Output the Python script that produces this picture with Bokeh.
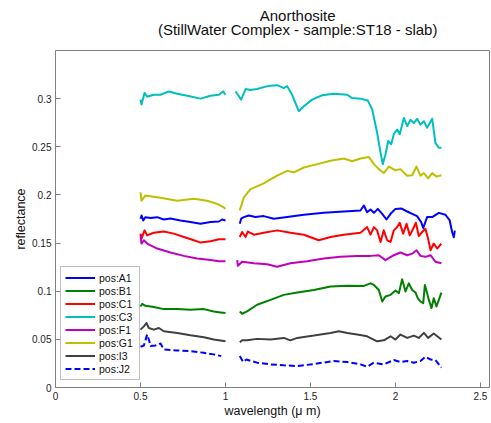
import math
from bokeh.plotting import figure
from bokeh.layouts import column
from bokeh.models import Label, Legend, LegendItem, FixedTicker, Range1d
from bokeh.embed import file_html
from bokeh.resources import INLINE

NaN = float("nan")

title_main = "Anorthosite"
title_sub = "(StillWater Complex - sample:ST18 - slab)"
x_label = "wavelength (\u03bc m)"
y_label = "reflectance"

x_ticks = [0, 0.5, 1, 1.5, 2, 2.5]
x_tick_labels = ["0", "0.5", "1", "1.5", "2", "2.5"]
y_ticks = [0, 0.05, 0.1, 0.15, 0.2, 0.25, 0.3]
y_tick_labels = ["0", "0.05", "0.1", "0.15", "0.2", "0.25", "0.3"]

series_names = ["pos:A1", "pos:B1", "pos:C1", "pos:C3", "pos:F1", "pos:G1", "pos:I3", "pos:J2"]

# pos:A1
a1_wl = [0.5, 0.506, 0.516, 0.529, 0.559, 0.598, 0.637, 0.676, 0.735, 0.794, 0.853, 0.912, 0.961, 0.98, 1.0, NaN,
         1.084, 1.092, 1.108, 1.137, 1.176, 1.225, 1.284, 1.363, 1.461, 1.578, 1.696, 1.794, 1.814, 1.833, 1.853,
         1.873, 1.896, 1.922, 1.947, 1.971, 2.0, 2.033, 2.069, 2.098, 2.127, 2.151, 2.163, 2.186, 2.216, 2.255,
         2.294, 2.319, 2.333, 2.343, 2.349]
a1_r = [0.1753, 0.1787, 0.1735, 0.1769, 0.176, 0.1769, 0.1745, 0.1755, 0.1735, 0.1718, 0.1701, 0.1718, 0.1724, 0.1745, 0.1735, NaN,
        0.170, 0.1753, 0.177, 0.1787, 0.177, 0.178, 0.1753, 0.177, 0.1794, 0.1814, 0.1828, 0.1838, 0.189, 0.182, 0.1848,
        0.1814, 0.1855, 0.1804, 0.1745, 0.1804, 0.1855, 0.186, 0.1828, 0.1804, 0.178, 0.1718, 0.1656, 0.177, 0.177, 0.1814,
        0.1794, 0.1735, 0.1615, 0.156, 0.163]

# pos:B1
b1_wl = [0.5, 0.51, 0.529, 0.578, 0.637, 0.716, 0.794, 0.873, 0.931, 0.971, 1.0, NaN,
         1.084, 1.098, 1.127, 1.186, 1.265, 1.343, 1.422, 1.52, 1.618, 1.716, 1.814, 1.853, 1.873, 1.902, 1.922,
         1.941, 1.971, 2.0, 2.02, 2.039, 2.059, 2.078, 2.098, 2.118, 2.131, 2.147, 2.163, 2.173, 2.186, 2.196,
         2.212, 2.225, 2.241, 2.255, 2.27]
b1_r = [0.0841, 0.0869, 0.0848, 0.0835, 0.0814, 0.0814, 0.0807, 0.0814, 0.079, 0.078, 0.0773, NaN,
        0.079, 0.0766, 0.079, 0.0859, 0.091, 0.0962, 0.0986, 0.1013, 0.1048, 0.1058, 0.1055, 0.1082, 0.1065, 0.1013, 0.0893,
        0.0945, 0.0962, 0.1007, 0.098, 0.1124, 0.0997, 0.1082, 0.1013, 0.0986, 0.0928, 0.0893, 0.0876, 0.1065, 0.098, 0.091,
        0.0825, 0.0928, 0.0841, 0.091, 0.0986]

# pos:C1
c1_wl = [0.5, 0.506, 0.524, 0.539, 0.578, 0.637, 0.696, 0.755, 0.814, 0.853, 0.912, 0.961, 1.0, NaN,
         1.084, 1.098, 1.118, 1.131, 1.167, 1.225, 1.304, 1.382, 1.461, 1.549, 1.618, 1.696, 1.794, 1.833, 1.853,
         1.873, 1.892, 1.912, 1.931, 1.951, 1.971, 1.99, 2.01, 2.025, 2.045, 2.065, 2.084, 2.104, 2.12, 2.137,
         2.157, 2.176, 2.192, 2.206, 2.225, 2.245, 2.27]
c1_r = [0.1598, 0.1546, 0.1632, 0.158, 0.1607, 0.162, 0.1598, 0.1563, 0.1529, 0.1505, 0.1518, 0.154, 0.154, NaN,
        0.1563, 0.1615, 0.1563, 0.162, 0.1587, 0.1607, 0.1632, 0.1607, 0.1587, 0.1529, 0.1563, 0.1587, 0.1607, 0.1666, 0.1587,
        0.1666, 0.1632, 0.1512, 0.1632, 0.1529, 0.1512, 0.1632, 0.1666, 0.1711, 0.1598, 0.170, 0.158, 0.1649, 0.1711, 0.1573,
        0.1615, 0.1649, 0.1546, 0.1426, 0.1495, 0.1443, 0.1495]

# pos:C3
c3_wl = [0.5, 0.506, 0.524, 0.539, 0.578, 0.618, 0.667, 0.716, 0.775, 0.853, 0.912, 0.961, 0.986, 1.0, NaN,
         1.059, 1.073, 1.092, 1.118, 1.147, 1.186, 1.225, 1.265, 1.304, 1.343, 1.363, 1.392, 1.431, 1.461, 1.51,
         1.569, 1.637, 1.716, 1.745, 1.794, 1.837, 1.863, 1.892, 1.912, 1.925, 1.941, 1.957, 1.975, 1.99, 2.01,
         2.025, 2.049, 2.069, 2.088, 2.108, 2.127, 2.147, 2.167, 2.186, 2.216, 2.235, 2.255, 2.27]
c3_r = [0.299, 0.294, 0.306, 0.302, 0.304, 0.304, 0.3075, 0.305, 0.303, 0.300, 0.303, 0.304, 0.3075, 0.304, NaN,
        0.3075, 0.304, 0.299, 0.310, 0.309, 0.310, 0.312, 0.3135, 0.314, 0.311, 0.313, 0.304, 0.287, 0.292, 0.299,
        0.3035, 0.305, 0.304, 0.3006, 0.300, 0.298, 0.2887, 0.2646, 0.244, 0.232, 0.242, 0.256, 0.2526, 0.263, 0.268,
        0.263, 0.280, 0.2715, 0.278, 0.2746, 0.279, 0.273, 0.2765, 0.2697, 0.279, 0.254, 0.249, 0.249]

# pos:F1
f1_wl = [0.5, 0.506, 0.52, 0.539, 0.598, 0.676, 0.755, 0.833, 0.912, 0.961, 1.0, NaN,
         1.069, 1.073, 1.098, 1.167, 1.245, 1.304, 1.382, 1.48, 1.578, 1.676, 1.775, 1.853, 1.902, 1.941, 1.99,
         2.029, 2.069, 2.098, 2.124, 2.147, 2.176, 2.206, 2.235, 2.27]
f1_r = [0.158, 0.1495, 0.1529, 0.1495, 0.1443, 0.1402, 0.1367, 0.134, 0.1323, 0.1312, 0.1312, NaN,
        0.1323, 0.1264, 0.1306, 0.129, 0.128, 0.1254, 0.129, 0.1312, 0.134, 0.1357, 0.1367, 0.1367, 0.1374, 0.1323, 0.1374,
        0.1402, 0.1374, 0.139, 0.1426, 0.1367, 0.1357, 0.1374, 0.1306, 0.129]

# pos:G1
g1_wl = [0.5, 0.506, 0.529, 0.618, 0.716, 0.814, 0.892, 0.951, 0.99, 1.0, NaN,
         1.084, 1.108, 1.147, 1.225, 1.304, 1.363, 1.402, 1.461, 1.54, 1.618, 1.696, 1.745, 1.794, 1.843, 1.873,
         1.902, 1.931, 1.961, 2.0, 2.029, 2.069, 2.098, 2.124, 2.147, 2.167, 2.192, 2.216, 2.241, 2.27]
g1_r = [0.2027, 0.194, 0.1993, 0.197, 0.194, 0.196, 0.194, 0.1907, 0.187, 0.1856, NaN,
        0.184, 0.1975, 0.206, 0.212, 0.22, 0.225, 0.2235, 0.2285, 0.232, 0.2354, 0.2378, 0.235, 0.2378, 0.2395, 0.232,
        0.2268, 0.2227, 0.2295, 0.2255, 0.2268, 0.22, 0.2205, 0.2295, 0.22, 0.2227, 0.2172, 0.2227, 0.219, 0.2205]

# pos:I3
i3_wl = [0.5, 0.52, 0.535, 0.549, 0.578, 0.608, 0.637, 0.716, 0.794, 0.873, 0.931, 0.971, 1.0, NaN,
         1.084, 1.098, 1.127, 1.186, 1.265, 1.343, 1.382, 1.422, 1.52, 1.618, 1.667, 1.716, 1.775, 1.833, 1.892,
         1.931, 1.971, 2.0, 2.029, 2.069, 2.108, 2.137, 2.167, 2.192, 2.225, 2.27]
i3_r = [0.0601, 0.0635, 0.067, 0.0618, 0.0601, 0.0618, 0.0584, 0.0567, 0.0542, 0.0522, 0.0498, 0.0488, 0.048, NaN,
        0.047, 0.049, 0.049, 0.0505, 0.0498, 0.0515, 0.049, 0.0515, 0.0539, 0.0567, 0.0584, 0.0567, 0.055, 0.0532, 0.048,
        0.049, 0.0532, 0.0498, 0.055, 0.0515, 0.0539, 0.0515, 0.0567, 0.0515, 0.056, 0.0498]

# pos:J2
j2_wl = [0.5, 0.52, 0.539, 0.549, 0.559, 0.588, 0.618, 0.637, 0.716, 0.794, 0.873, 0.931, 0.975, NaN,
         1.084, 1.104, 1.123, 1.186, 1.265, 1.343, 1.422, 1.52, 1.637, 1.716, 1.794, 1.833, 1.873, 1.931, 1.99,
         2.029, 2.069, 2.108, 2.147, 2.176, 2.206, 2.235, 2.255, 2.27]
j2_r = [0.0423, 0.0436, 0.055, 0.0498, 0.043, 0.0436, 0.0457, 0.0395, 0.0385, 0.0378, 0.036, 0.0344, 0.0326, NaN,
        0.0326, 0.0264, 0.029, 0.0258, 0.024, 0.023, 0.0223, 0.0244, 0.0275, 0.0264, 0.024, 0.0216, 0.0258, 0.024, 0.0285,
        0.0264, 0.0275, 0.0258, 0.0275, 0.032, 0.029, 0.0285, 0.024, 0.0206]

series_wl = [a1_wl, b1_wl, c1_wl, c3_wl, f1_wl, g1_wl, i3_wl, j2_wl]
series_r = [a1_r, b1_r, c1_r, c3_r, f1_r, g1_r, i3_r, j2_r]
colors = ["#0000ff", "#008000", "#ff0000", "#00bfbf", "#bf00bf", "#bfbf00", "#404040", "#0000ff"]
dashes = ["solid"] * 7 + ["6 3"]

FONT = "Liberation Sans"

# --- title strip: a bare figure whose frame covers the whole strip (49 px tall, y measured from top)
t = figure(width=491, height=49, output_backend="svg", toolbar_location=None,
           x_range=Range1d(0, 491), y_range=Range1d(49, 0),
           x_axis_location=None, y_axis_location=None,
           min_border_left=0, min_border_right=0, min_border_top=0, min_border_bottom=0)
t.grid.visible = False
t.outline_line_color = None
t.background_fill_color = "white"
t.border_fill_color = "white"
for txt, ty in ((title_main, 15), (title_sub, 28.5)):
    t.add_layout(Label(x=274, y=ty, text=txt, text_align="center", text_baseline="middle",
                       text_font=FONT, text_font_size="15px", text_color="#111111"))

# --- main chart
p = figure(width=491, height=374, output_backend="svg", toolbar_location=None,
           x_range=Range1d(0, 2.553), y_range=Range1d(0, 0.35),
           min_border_left=55, min_border_right=2, min_border_top=1, min_border_bottom=36)
p.title = None

p.grid.visible = False
p.outline_line_color = "#808080"
p.background_fill_color = "white"
p.border_fill_color = "white"

xax = p.xaxis[0]
yax = p.yaxis[0]
for ax in (xax, yax):
    ax.axis_line_color = "#808080"
    ax.major_tick_line_color = "#808080"
    ax.major_tick_in = 5
    ax.major_tick_out = 0
    ax.minor_tick_line_color = None
    ax.major_label_text_font = FONT
    ax.major_label_text_font_size = "10px"
    ax.major_label_text_color = "#222222"
    ax.axis_label_text_font = FONT
    ax.axis_label_text_font_size = "12.5px"
    ax.axis_label_text_font_style = "normal"
    ax.axis_label_text_color = "#111111"

xax.ticker = FixedTicker(ticks=x_ticks)
xax.major_label_overrides = {tk: lb for tk, lb in zip(x_ticks, x_tick_labels)}
yax.ticker = FixedTicker(ticks=y_ticks)
yax.major_label_overrides = {tk: lb for tk, lb in zip(y_ticks, y_tick_labels)}
xax.axis_label = x_label
yax.axis_label = y_label
xax.major_label_standoff = 4
yax.major_label_standoff = 4
xax.axis_label_standoff = 1
yax.axis_label_standoff = 1

items = []
for name, wl, r, c, d in zip(series_names, series_wl, series_r, colors, dashes):
    rend = p.line(wl, r, line_color=c, line_width=2, line_dash=d, line_join="round")
    items.append(LegendItem(label=name, renderers=[rend]))

legend = Legend(items=items, location=(5, 7), border_line_color="#808080",
                background_fill_color="white", background_fill_alpha=1.0,
                label_text_font=FONT, label_text_font_size="10.5px", label_text_color="#111111",
                glyph_width=30, glyph_height=13, label_height=13, label_width=36, label_standoff=4,
                spacing=0, padding=4, margin=0)
p.add_layout(legend, "center")

layout = column(t, p, spacing=0)
open("out.html", "w").write(file_html(layout, INLINE))
